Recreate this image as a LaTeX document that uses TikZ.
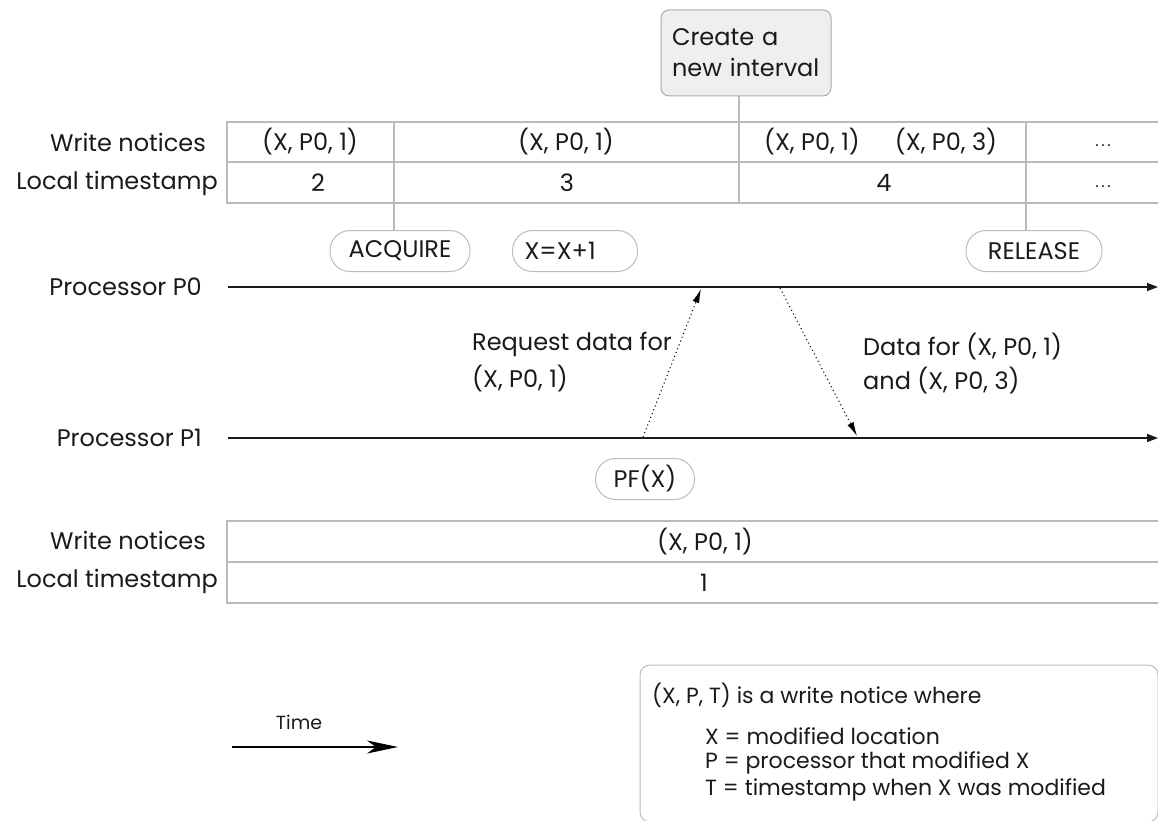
\documentclass[tikz,border=0pt]{standalone}
\usepackage{fontspec}
\setmainfont{Poppins}
\usetikzlibrary{arrows.meta}
\definecolor{ink}{HTML}{1A1A1A}
\definecolor{rulegray}{HTML}{BBBBBB}
\definecolor{notefill}{HTML}{EFEFEF}
\definecolor{noteedge}{HTML}{AAAAAA}
\begin{document}
\begin{tikzpicture}[x=1pt,y=-1pt,
  font=\fontsize{24}{28}\selectfont, text=ink,
  grid/.style={draw=rulegray, line width=1.2pt},
  pill/.style={draw=rulegray, line width=1pt, rounded corners=20pt,
    minimum height=41pt, inner sep=0pt},
  lbl/.style={inner sep=0pt},
  proc/.style={draw=ink, line width=1.4pt, -{Triangle[length=11pt,width=8pt]}},
  msg/.style={draw=black, line width=1pt, dash pattern=on 1.1pt off 3pt,
    -{Latex[length=14pt,width=7pt]}},
]
\useasboundingbox (0,0) rectangle (1158,821);

% ---------- interval note ----------
\node[draw=noteedge, fill=notefill, line width=1pt, rounded corners=8pt,
  minimum width=170pt, minimum height=86pt, text width=148pt, align=left,
  inner xsep=11pt, font=\fontsize{24}{31}\selectfont] (newint) at (746,53)
  {Create a\\new interval};

% ---------- P0 interval table ----------
\draw[grid] (1160,122) -| (227,203) -- (1160,203);
\draw[grid] (227,162) -- (1160,162);

\node[lbl, anchor=east] (wn0) at (206,142) {Write notices};
\node[lbl, anchor=east] (lt0) at (218,183) {Local timestamp};

\node[lbl] (c1w) at (310,142) {(X, P0, 1)};
\node[lbl] (c1t) at (318,183) {2};
\node[lbl] (c2w) at (566,142) {(X, P0, 1)};
\node[lbl] (c2t) at (567,183) {3};
\node[lbl] (c3wa) at (812,142) {(X, P0, 1)};
\node[lbl] (c3wb) at (946,142) {(X, P0, 3)};
\node[lbl] (c3t) at (884,183) {4};
\node[lbl, font=\fontsize{16}{18}\selectfont] (c4w) at (1103,146) {.\,.\,.};
\node[lbl, font=\fontsize{16}{18}\selectfont] (c4t) at (1103,187) {.\,.\,.};

% ---------- events on P0 ----------
\node[pill, minimum width=140pt] (acq) at (400,251) {ACQUIRE};
\node[pill, text width=101pt, inner xsep=12pt, align=left] (inc) at (575,251) {X=X+1};
\node[pill, minimum width=136pt] (rel) at (1034,251) {RELEASE};

\draw[grid] (394,122) -- (acq.north -| 394,0);
\draw[grid] (739,203) -- (newint.south -| 739,0);
\draw[grid] (1026,122) -- (rel.north -| 1026,0);

% ---------- processor time lines ----------
\node[lbl, anchor=east] (p0) at (202,287) {Processor P0};
\node[lbl, anchor=east] (p1) at (202,438) {Processor P1};
\coordinate (p0s) at (228,287);
\coordinate (p0e) at (1158,287);
\coordinate (p1s) at (228,438);
\coordinate (p1e) at (1158,438);
\draw[proc] (p0s) -- (p0e);
\draw[proc] (p1s) -- (p1e);

% ---------- messages ----------
\coordinate (reqS) at (643,437);
\coordinate (reqE) at (701,289);
\coordinate (datS) at (780,288);
\coordinate (datE) at (857,436);
\draw[msg] (reqS) -- (reqE);
\draw[msg] (datS) -- (datE);

\node[lbl, anchor=west] (req1) at (472,344) {Request data for};
\node[lbl, anchor=west] (req2) at (472,379) {(X, P0, 1)};
\node[lbl, anchor=west] (dat1) at (863,347) {Data for (X, P0, 1)};
\node[lbl, anchor=west] (dat2) at (863,381) {and (X, P0, 3)};

% ---------- event on P1 ----------
\node[pill, minimum width=99pt] (pf) at (645,479) {PF(X)};

% ---------- P1 interval table ----------
\draw[grid] (1160,521) -| (227,603) -- (1160,603);
\draw[grid] (227,562) -- (1160,562);
\node[lbl, anchor=east] (wn1) at (206,540) {Write notices};
\node[lbl, anchor=east] (lt1) at (218,581) {Local timestamp};
\node[lbl] (b1w) at (705,542) {(X, P0, 1)};
\node[lbl] (b1t) at (704,583) {1};

% ---------- time axis ----------
\node[lbl, font=\fontsize{19}{23}\selectfont] (time) at (299,722) {Time};
\coordinate (ts) at (232,747);
\coordinate (te) at (398,747);
\draw[line width=1.4pt, -{Stealth[length=31pt,width=13pt,inset=9pt]}] (ts) -- (te);

% ---------- legend ----------
\draw[draw=rulegray, line width=1pt, rounded corners=10pt] (640,665) rectangle (1158,822);
\begin{scope}[every node/.style={lbl, anchor=west, font=\fontsize{22}{26}\selectfont}]
\node (lg0) at (652,695) {(X, P, T) is a write notice where};
\node (lg1) at (705,736) {X = modified location};
\node (lg2) at (705,763) {P = processor that modified X};
\node (lg3) at (705,790) {T = timestamp when X was modified};
\end{scope}
\end{tikzpicture}
\end{document}
